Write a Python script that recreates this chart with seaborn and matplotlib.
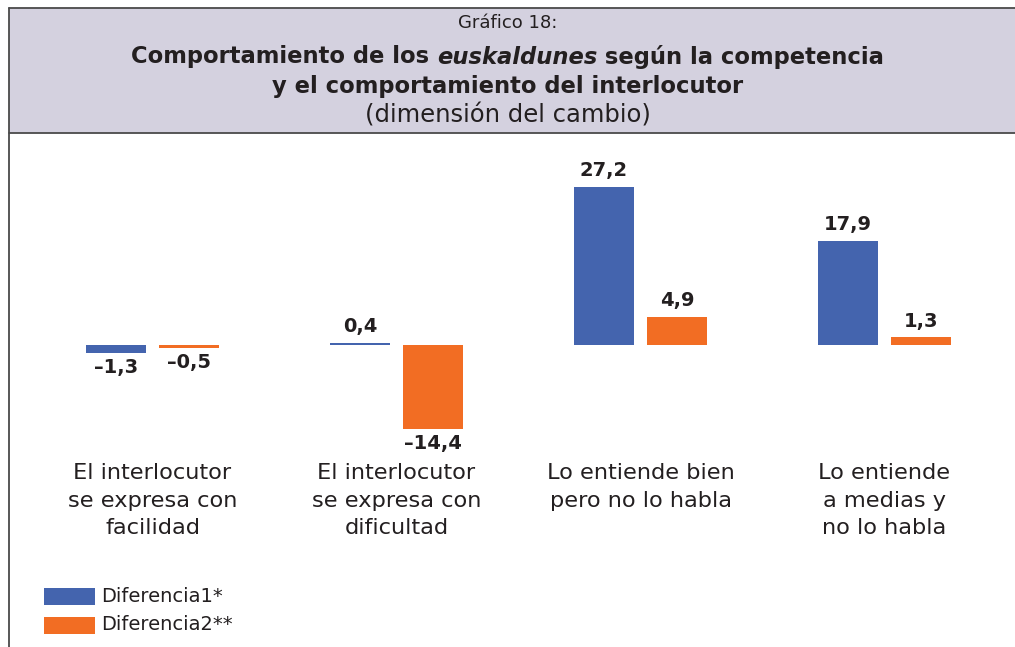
import pandas as pd
import numpy as np
import matplotlib.pyplot as plt
import seaborn as sns
from matplotlib.patches import Rectangle
from matplotlib.lines import Line2D

# Datos
categorias = ['El interlocutor\nse expresa con\nfacilidad',
              'El interlocutor\nse expresa con\ndificultad',
              'Lo entiende bien\npero no lo habla',
              'Lo entiende\na medias y\nno lo habla']
series = ['Diferencia1*', 'Diferencia2**']
diferencia1 = [-1.3, 0.4, 27.2, 17.9]
diferencia2 = [-0.5, -14.4, 4.9, 1.3]

azul = '#4464AE'
naranja = '#F26D23'
texto = '#231F20'

df = pd.DataFrame({
    'categoria': categorias * 2,
    'serie': [series[0]] * 4 + [series[1]] * 4,
    'valor': diferencia1 + diferencia2,
})

sns.set_theme(style='white')
plt.rcParams['font.family'] = ['DejaVu Sans']

W, H = 1015, 647
fig = plt.figure(figsize=(W / 100, H / 100), dpi=100)

# Cabecera
fig.patches.append(Rectangle((9 / W, 1 - 133 / H), 1 - 9 / W, 125 / H,
                             transform=fig.transFigure, facecolor='#D4D1DF',
                             edgecolor='none', zorder=0))
for xs, ys in [([9, W], [8, 8]), ([9, W], [133, 133]), ([9, 9], [8, H])]:
    fig.lines.append(Line2D([x / W for x in xs], [1 - y / H for y in ys],
                            transform=fig.transFigure, color='#4a4a4a', lw=1.3))

fig.text(0.5, 1 - 23 / H, 'Gráfico 18:', ha='center', va='center',
         fontsize=13, color=texto)

# título con parte en cursiva
piezas = [('Comportamiento de los ', 'normal'), ('euskaldunes', 'italic'),
          (' según la competencia', 'normal')]
renderer = fig.canvas.get_renderer()
objs = []
for s, st in piezas:
    t = fig.text(0, 1 - 57 / H, s, ha='left', va='center', fontsize=16.3,
                 fontweight='bold', style=st, color=texto)
    objs.append(t)
anchos = [t.get_window_extent(renderer).width for t in objs]
x0 = (W - sum(anchos)) / 2
for t, w in zip(objs, anchos):
    t.set_x(x0 / W)
    x0 += w
fig.text(0.5, 1 - 86 / H, 'y el comportamiento del interlocutor', ha='center',
         va='center', fontsize=16.3, fontweight='bold', color=texto)
fig.text(0.5, 1 - 116 / H, '(dimensión del cambio)', ha='center', va='center',
         fontsize=17.5, color=texto)

# Gráfico de barras
ax_top, ax_bot = 150, 455
ax = fig.add_axes([30.5 / W, 1 - ax_bot / H, 976 / W, (ax_bot - ax_top) / H])
sns.barplot(data=df, x='categoria', y='valor', hue='serie',
            palette=[azul, naranja], width=0.6, gap=0.18, ax=ax,
            legend=False, saturation=1, linewidth=0)
escala = 5.8
ax.set_xlim(-0.5, 3.5)
ax.set_ylim(-(ax_bot - 345) / escala, (345 - ax_top) / escala)
for sp in ax.spines.values():
    sp.set_visible(False)
ax.set_yticks([])
ax.set_xlabel('')
ax.set_ylabel('')
ax.tick_params(axis='x', length=0, pad=6)
ax.set_xticks(range(4))
ax.set_xticklabels(categorias, fontsize=16.2, color=texto, linespacing=1.47,
                   va='top')

for cont in ax.containers:
    for bar in cont:
        val = bar.get_height()
        etiqueta = f'{abs(val):.1f}'.replace('.', ',')
        xc = bar.get_x() + bar.get_width() / 2
        if val < 0:
            ax.annotate('–' + etiqueta, (xc, val), xytext=(0, -4),
                        textcoords='offset points', ha='center', va='top',
                        fontsize=14, fontweight='bold', color=texto)
        else:
            ax.annotate(etiqueta, (xc, val), xytext=(0, 5),
                        textcoords='offset points', ha='center', va='bottom',
                        fontsize=14, fontweight='bold', color=texto)

# Leyenda
for i, (s, c) in enumerate(zip(series, [azul, naranja])):
    yc = 596 + i * 29
    fig.patches.append(Rectangle((44 / W, 1 - (yc + 8.5) / H), 51 / W, 17 / H,
                                 transform=fig.transFigure, facecolor=c,
                                 edgecolor='none'))
    fig.text(101 / W, 1 - yc / H, s, ha='left', va='center', fontsize=14,
             color=texto)

fig.savefig('out.png', dpi=100, facecolor='white')
